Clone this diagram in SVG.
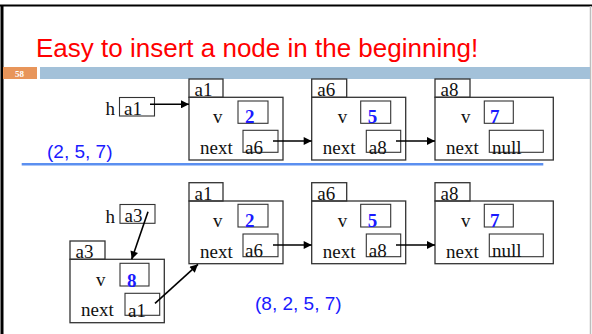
<svg xmlns="http://www.w3.org/2000/svg" width="592" height="334" viewBox="0 0 592 334">
  <defs>
    <marker id="arrow" viewBox="0 0 10 10" refX="10" refY="5" markerWidth="10" markerHeight="8" markerUnits="userSpaceOnUse" orient="auto">
      <path d="M0,0 L10,5 L0,10 z" fill="#000"/>
    </marker>
    <style>
      .box { fill: none; stroke: #333; stroke-width: 1.3; }
      .cell { fill: none; stroke: #333; stroke-width: 1.1; }
      .lbl { font-family: "Liberation Serif", "Times New Roman", serif; font-size: 19px; fill: #111; }
      .val { font-family: "Liberation Serif", "Times New Roman", serif; font-size: 19px; font-weight: bold; fill: #1a1aff; }
      .list { font-family: "Liberation Sans", Arial, sans-serif; font-size: 19px; fill: #1a1aff; }
      .link { stroke: #000; stroke-width: 1.6; fill: none; marker-end: url(#arrow); }
    </style>
  </defs>

  <!-- slide frame -->
  <rect x="0" y="0" width="592" height="334" fill="#fff"/>
  <line x1="0" y1="5.5" x2="592" y2="5.5" stroke="#000" stroke-width="2.2"/>
  <line x1="2" y1="5" x2="2" y2="334" stroke="#000" stroke-width="3"/>
  <line x1="590.5" y1="6" x2="590.5" y2="334" stroke="#bdbdbd" stroke-width="1.5"/>

  <!-- title and header bar -->
  <text x="36" y="56.5" font-family="Liberation Sans, Arial, sans-serif" font-size="26" fill="#ff0000">Easy to insert a node in the beginning!</text>
  <rect x="3" y="67" width="34" height="12" fill="#e8955a"/>
  <text x="19.5" y="76.5" text-anchor="middle" font-family="Liberation Serif, serif" font-size="9" font-weight="bold" fill="#fff">58</text>
  <rect x="40" y="67" width="550" height="12" fill="#a3c1d9"/>

  <!-- separator and list contents -->
  <line x1="21.7" y1="164.3" x2="543.3" y2="164.3" stroke="#5b8ff0" stroke-width="2.6"/>
  <text class="list" x="47" y="157.5">(2, 5, 7)</text>
  <text class="list" x="255" y="310">(8, 2, 5, 7)</text>

  <!-- head pointer, before insertion -->
  <g id="head-top">
    <text class="lbl" x="105.5" y="115">h</text>
    <rect class="cell" x="119.5" y="97.5" width="35" height="18.5"/>
    <text class="lbl" x="124" y="114.5">a1</text>
  </g>

  <!-- node a1 (top) -->
  <g id="node-a1-top" transform="translate(189,79)">
    <rect class="box" x="0" y="0" width="34" height="18.3"/>
    <text class="lbl" x="5.5" y="17">a1</text>
    <rect class="box" x="0" y="18.3" width="94" height="62.7"/>
    <text class="lbl" x="24" y="44">v</text>
    <rect class="cell" x="49" y="22" width="30" height="22.3"/>
    <text class="val" x="56" y="44">2</text>
    <text class="lbl" x="11" y="75">next</text>
    <rect class="cell" x="54" y="51.3" width="35" height="22"/>
    <text class="lbl" x="56" y="74.5">a6</text>
  </g>

  <!-- node a6 (top) -->
  <g id="node-a6-top" transform="translate(311.7,79)">
    <rect class="box" x="0" y="0" width="35" height="18.3"/>
    <text class="lbl" x="5.5" y="17">a6</text>
    <rect class="box" x="0" y="18.3" width="94" height="62.7"/>
    <text class="lbl" x="26" y="44">v</text>
    <rect class="cell" x="49" y="22" width="30" height="22.3"/>
    <text class="val" x="56" y="44">5</text>
    <text class="lbl" x="11" y="75">next</text>
    <rect class="cell" x="54.6" y="51.3" width="34.4" height="22"/>
    <text class="lbl" x="57" y="74.5">a8</text>
  </g>

  <!-- node a8 (top) -->
  <g id="node-a8-top" transform="translate(435,79)">
    <rect class="box" x="0" y="0" width="35" height="18.3"/>
    <text class="lbl" x="5.5" y="17">a8</text>
    <rect class="box" x="0" y="18.3" width="118.3" height="62.7"/>
    <text class="lbl" x="26" y="44">v</text>
    <rect class="cell" x="49.3" y="22" width="29" height="22.3"/>
    <text class="val" x="55" y="44">7</text>
    <text class="lbl" x="11" y="75">next</text>
    <rect class="cell" x="54.3" y="51.3" width="54" height="22"/>
    <text class="lbl" x="57" y="74.5">null</text>
  </g>

  <!-- head pointer, after insertion -->
  <g id="head-bottom">
    <text class="lbl" x="105.5" y="223">h</text>
    <rect class="cell" x="120" y="204.5" width="35" height="18.8"/>
    <text class="lbl" x="124.5" y="222">a3</text>
  </g>

  <!-- new node a3 -->
  <g id="node-a3" transform="translate(70,241)">
    <rect class="box" x="0" y="0" width="35" height="18.3"/>
    <text class="lbl" x="5.5" y="17">a3</text>
    <rect class="box" x="0" y="18.3" width="94.3" height="63.4"/>
    <text class="lbl" x="26" y="45">v</text>
    <rect class="cell" x="50" y="22.3" width="29" height="22.7"/>
    <text class="val" x="57" y="45.5">8</text>
    <text class="lbl" x="11" y="75">next</text>
    <rect class="cell" x="55" y="52.3" width="34.7" height="22"/>
    <text class="lbl" x="58" y="75.5">a1</text>
  </g>

  <!-- node a1 (bottom) -->
  <g id="node-a1-bottom" transform="translate(189,182.7)">
    <rect class="box" x="0" y="0" width="34" height="18.3"/>
    <text class="lbl" x="5.5" y="17">a1</text>
    <rect class="box" x="0" y="18.3" width="94" height="62.7"/>
    <text class="lbl" x="24" y="44">v</text>
    <rect class="cell" x="49" y="21.6" width="30" height="22.7"/>
    <text class="val" x="56" y="44">2</text>
    <text class="lbl" x="11" y="75">next</text>
    <rect class="cell" x="54" y="51.3" width="35" height="22.7"/>
    <text class="lbl" x="56" y="74.5">a6</text>
  </g>

  <!-- node a6 (bottom) -->
  <g id="node-a6-bottom" transform="translate(311.7,182.7)">
    <rect class="box" x="0" y="0" width="35" height="18.3"/>
    <text class="lbl" x="5.5" y="17">a6</text>
    <rect class="box" x="0" y="18.3" width="94" height="62.7"/>
    <text class="lbl" x="26" y="44">v</text>
    <rect class="cell" x="49" y="21.6" width="30" height="22.7"/>
    <text class="val" x="56" y="44">5</text>
    <text class="lbl" x="11" y="75">next</text>
    <rect class="cell" x="54.6" y="51.3" width="34.4" height="22.7"/>
    <text class="lbl" x="57" y="74.5">a8</text>
  </g>

  <!-- node a8 (bottom) -->
  <g id="node-a8-bottom" transform="translate(435,182.7)">
    <rect class="box" x="0" y="0" width="35" height="18.3"/>
    <text class="lbl" x="5.5" y="17">a8</text>
    <rect class="box" x="0" y="18.3" width="118.3" height="62.7"/>
    <text class="lbl" x="26" y="44">v</text>
    <rect class="cell" x="49.3" y="21.6" width="29" height="22.7"/>
    <text class="val" x="55" y="44">7</text>
    <text class="lbl" x="11" y="75">next</text>
    <rect class="cell" x="54.3" y="51.3" width="54" height="22.7"/>
    <text class="lbl" x="57" y="74.5">null</text>
  </g>

  <!-- pointer connectors -->
  <g id="connectors">
    <line class="link" x1="150" y1="104.3" x2="189" y2="104.3"/>
    <line class="link" x1="273" y1="141" x2="311.7" y2="141"/>
    <line class="link" x1="396" y1="141" x2="435" y2="141"/>
    <line class="link" x1="148" y1="211.7" x2="131.7" y2="259.3"/>
    <line class="link" x1="155" y1="303.3" x2="198" y2="264.3"/>
    <line class="link" x1="273" y1="245" x2="311.7" y2="245"/>
    <line class="link" x1="396" y1="245" x2="435" y2="245"/>
  </g>
</svg>
